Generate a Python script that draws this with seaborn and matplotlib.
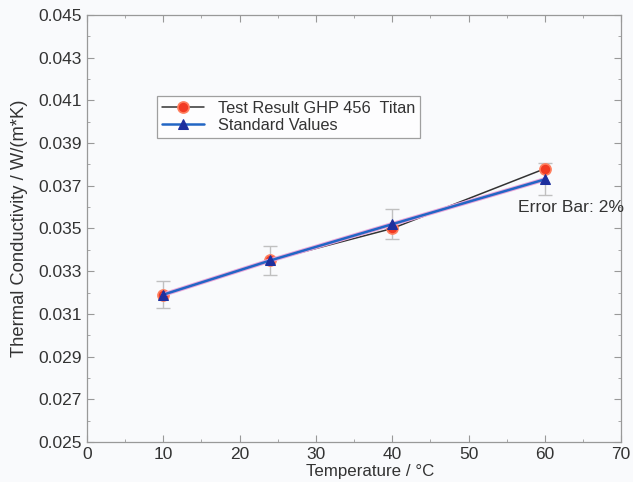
import matplotlib
matplotlib.use("Agg")
import matplotlib.pyplot as plt
from matplotlib.ticker import MultipleLocator, FormatStrFormatter
import seaborn as sns
import pandas as pd

temps = [10, 24, 40, 60]
test_values = [0.0319, 0.0335, 0.0350, 0.0378]
standard_values = [0.0319, 0.0335, 0.0352, 0.0373]
error_pct = 0.02

sns.set_style("ticks")
plt.rcParams['font.family'] = ['Liberation Sans', 'DejaVu Sans']

bg = '#f9fafc'
fig = plt.figure(figsize=(6.33, 4.82), dpi=100, facecolor=bg)
ax = fig.add_axes([0.1374, 0.083, 0.844, 0.886], facecolor=bg)

df = pd.DataFrame({'T': temps, 'test': test_values, 'std': standard_values})

# error bars on standard values
ax.errorbar(temps, standard_values, yerr=[v * error_pct for v in standard_values],
            fmt='none', ecolor='#c0c0c0', elinewidth=1.0, capsize=5, capthick=1.0, zorder=2)

sns.lineplot(data=df, x='T', y='test', ax=ax, color='#333333', linewidth=1.1,
             marker='o', markersize=8, markerfacecolor='#f23a22', markeredgecolor='#ff8060',
             markeredgewidth=1.2, label='Test Result GHP 456  Titan', zorder=3)
# pinkish halo under the blue line
sns.lineplot(data=df, x='T', y='std', ax=ax, color='#eaa6da', linewidth=3.2,
             legend=False, zorder=3.5)
sns.lineplot(data=df, x='T', y='std', ax=ax, color='#2266c4', linewidth=1.8,
             marker='^', markersize=7, markerfacecolor='#1d2f9e', markeredgecolor='#1d2f9e',
             label='Standard Values', zorder=4)

ax.set_xlim(0, 70)
ax.set_ylim(0.025, 0.045)
ax.xaxis.set_major_locator(MultipleLocator(10))
ax.xaxis.set_minor_locator(MultipleLocator(5))
ax.yaxis.set_minor_locator(MultipleLocator(0.001))
ax.set_yticks([0.025 + 0.002 * i for i in range(11)])
ax.yaxis.set_major_formatter(FormatStrFormatter('%.3f'))
ax.tick_params(which='both', direction='in', top=True, right=True, colors='#999999',
               labelcolor='#333333', labelsize=12.5)
ax.tick_params(which='major', length=5, width=0.8)
ax.tick_params(which='minor', length=2.5, width=0.6)
for s in ax.spines.values():
    s.set_color('#999999')
    s.set_linewidth(0.9)

ax.set_xlabel('Temperature / °C', fontsize=12.2, color='#333333')
ax.set_ylabel('Thermal Conductivity / W/(m*K)', fontsize=13.2, color='#333333')
ax.xaxis.set_label_coords(0.53, -0.052)
ax.yaxis.set_label_coords(-0.11, 0.5)

ax.text(56.5, 0.0360, 'Error Bar: 2%', fontsize=12.6, color='#333333', va='center')

leg = ax.legend(loc='upper left', bbox_to_anchor=(0.131, 0.81), fontsize=11.8,
                frameon=True, fancybox=False, handlelength=2.6, borderpad=0.3,
                labelspacing=0.1, handletextpad=0.8, borderaxespad=0)
leg.get_frame().set_edgecolor('#888888')
leg.get_frame().set_linewidth(0.9)
leg.get_frame().set_facecolor('white')
for t in leg.get_texts():
    t.set_color('#333333')

fig.savefig('out.png', dpi=100, facecolor=bg)
